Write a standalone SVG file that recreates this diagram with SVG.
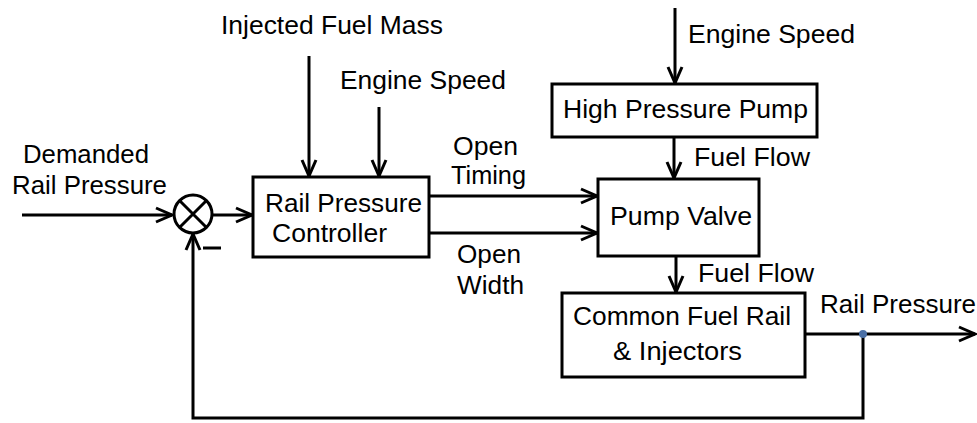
<svg xmlns="http://www.w3.org/2000/svg" width="977" height="423" viewBox="0 0 977 423">
<style>
text{font-family:"Liberation Sans",Arial,sans-serif;font-size:25px;fill:#000}
.box{fill:#fff;stroke:#000;stroke-width:3}
.ln{fill:none;stroke:#000;stroke-width:3}
</style>
<defs>
<marker id="arr" markerUnits="userSpaceOnUse" markerWidth="22" markerHeight="20" refX="18" refY="10" orient="auto">
<path d="M2,3 L18,10 L2,17" fill="none" stroke="#000" stroke-width="3"/>
</marker>
</defs>
<rect width="977" height="423" fill="#fff"/>
<g id="connectors">
<path class="ln" d="M22,215 L172,215" marker-end="url(#arr)"/>
<path class="ln" d="M212,215 L252,215" marker-end="url(#arr)"/>
<path class="ln" d="M309,56 L309,176" marker-end="url(#arr)"/>
<path class="ln" d="M379,107 L379,176" marker-end="url(#arr)"/>
<path class="ln" d="M429,196 L597,196" marker-end="url(#arr)"/>
<path class="ln" d="M429,233 L597,233" marker-end="url(#arr)"/>
<path class="ln" d="M675,8 L675,83" marker-end="url(#arr)"/>
<path class="ln" d="M674,137 L674,178" marker-end="url(#arr)"/>
<path class="ln" d="M676,256 L676,292" marker-end="url(#arr)"/>
<path class="ln" d="M805,334 L975,334" marker-end="url(#arr)"/>
<path class="ln" d="M863,334 L863,418 L193,418 L193,234" marker-end="url(#arr)"/>
<circle cx="863" cy="334" r="4" fill="#4a6fa5"/>
</g>
<g id="sum">
<circle cx="193" cy="214" r="19" fill="#fff" stroke="#000" stroke-width="3"/>
<path class="ln" d="M179.5,200.5 L206.5,227.5 M206.5,200.5 L179.5,227.5"/>
<path d="M203,248 L221,248" stroke="#000" stroke-width="3"/>
</g>
<g id="labels">
<text x="221" y="34" textLength="222" lengthAdjust="spacingAndGlyphs">Injected Fuel Mass</text>
<text x="340" y="89" textLength="166" lengthAdjust="spacingAndGlyphs">Engine Speed</text>
<text x="688" y="43" textLength="167" lengthAdjust="spacingAndGlyphs">Engine Speed</text>
<text x="453" y="155" textLength="65" lengthAdjust="spacingAndGlyphs">Open</text>
<text x="451" y="184" textLength="75" lengthAdjust="spacingAndGlyphs">Timing</text>
<text x="457" y="263" textLength="64" lengthAdjust="spacingAndGlyphs">Open</text>
<text x="457" y="294" textLength="67" lengthAdjust="spacingAndGlyphs">Width</text>
<text x="23" y="163" textLength="126" lengthAdjust="spacingAndGlyphs">Demanded</text>
<text x="12" y="194" textLength="155" lengthAdjust="spacingAndGlyphs">Rail Pressure</text>
<text x="694" y="166" textLength="116" lengthAdjust="spacingAndGlyphs">Fuel Flow</text>
<text x="698" y="282" textLength="116" lengthAdjust="spacingAndGlyphs">Fuel Flow</text>
<text x="820" y="313" textLength="156" lengthAdjust="spacingAndGlyphs">Rail Pressure</text>
</g>
<g id="controller">
<rect class="box" x="253" y="177" width="176" height="80"/>
<text x="265" y="212" textLength="157" lengthAdjust="spacingAndGlyphs">Rail Pressure</text>
<text x="272" y="242" textLength="115" lengthAdjust="spacingAndGlyphs">Controller</text>
</g>
<g id="pump">
<rect class="box" x="552" y="84" width="265" height="53"/>
<text x="563" y="118" textLength="245" lengthAdjust="spacingAndGlyphs">High Pressure Pump</text>
</g>
<g id="valve">
<rect class="box" x="598" y="179" width="161" height="77"/>
<text x="610" y="225" textLength="142" lengthAdjust="spacingAndGlyphs">Pump Valve</text>
</g>
<g id="rail">
<rect class="box" x="562" y="293" width="243" height="84"/>
<text x="573" y="325" textLength="218" lengthAdjust="spacingAndGlyphs">Common Fuel Rail</text>
<text x="613" y="360" textLength="129" lengthAdjust="spacingAndGlyphs">&amp; Injectors</text>
</g>
</svg>
